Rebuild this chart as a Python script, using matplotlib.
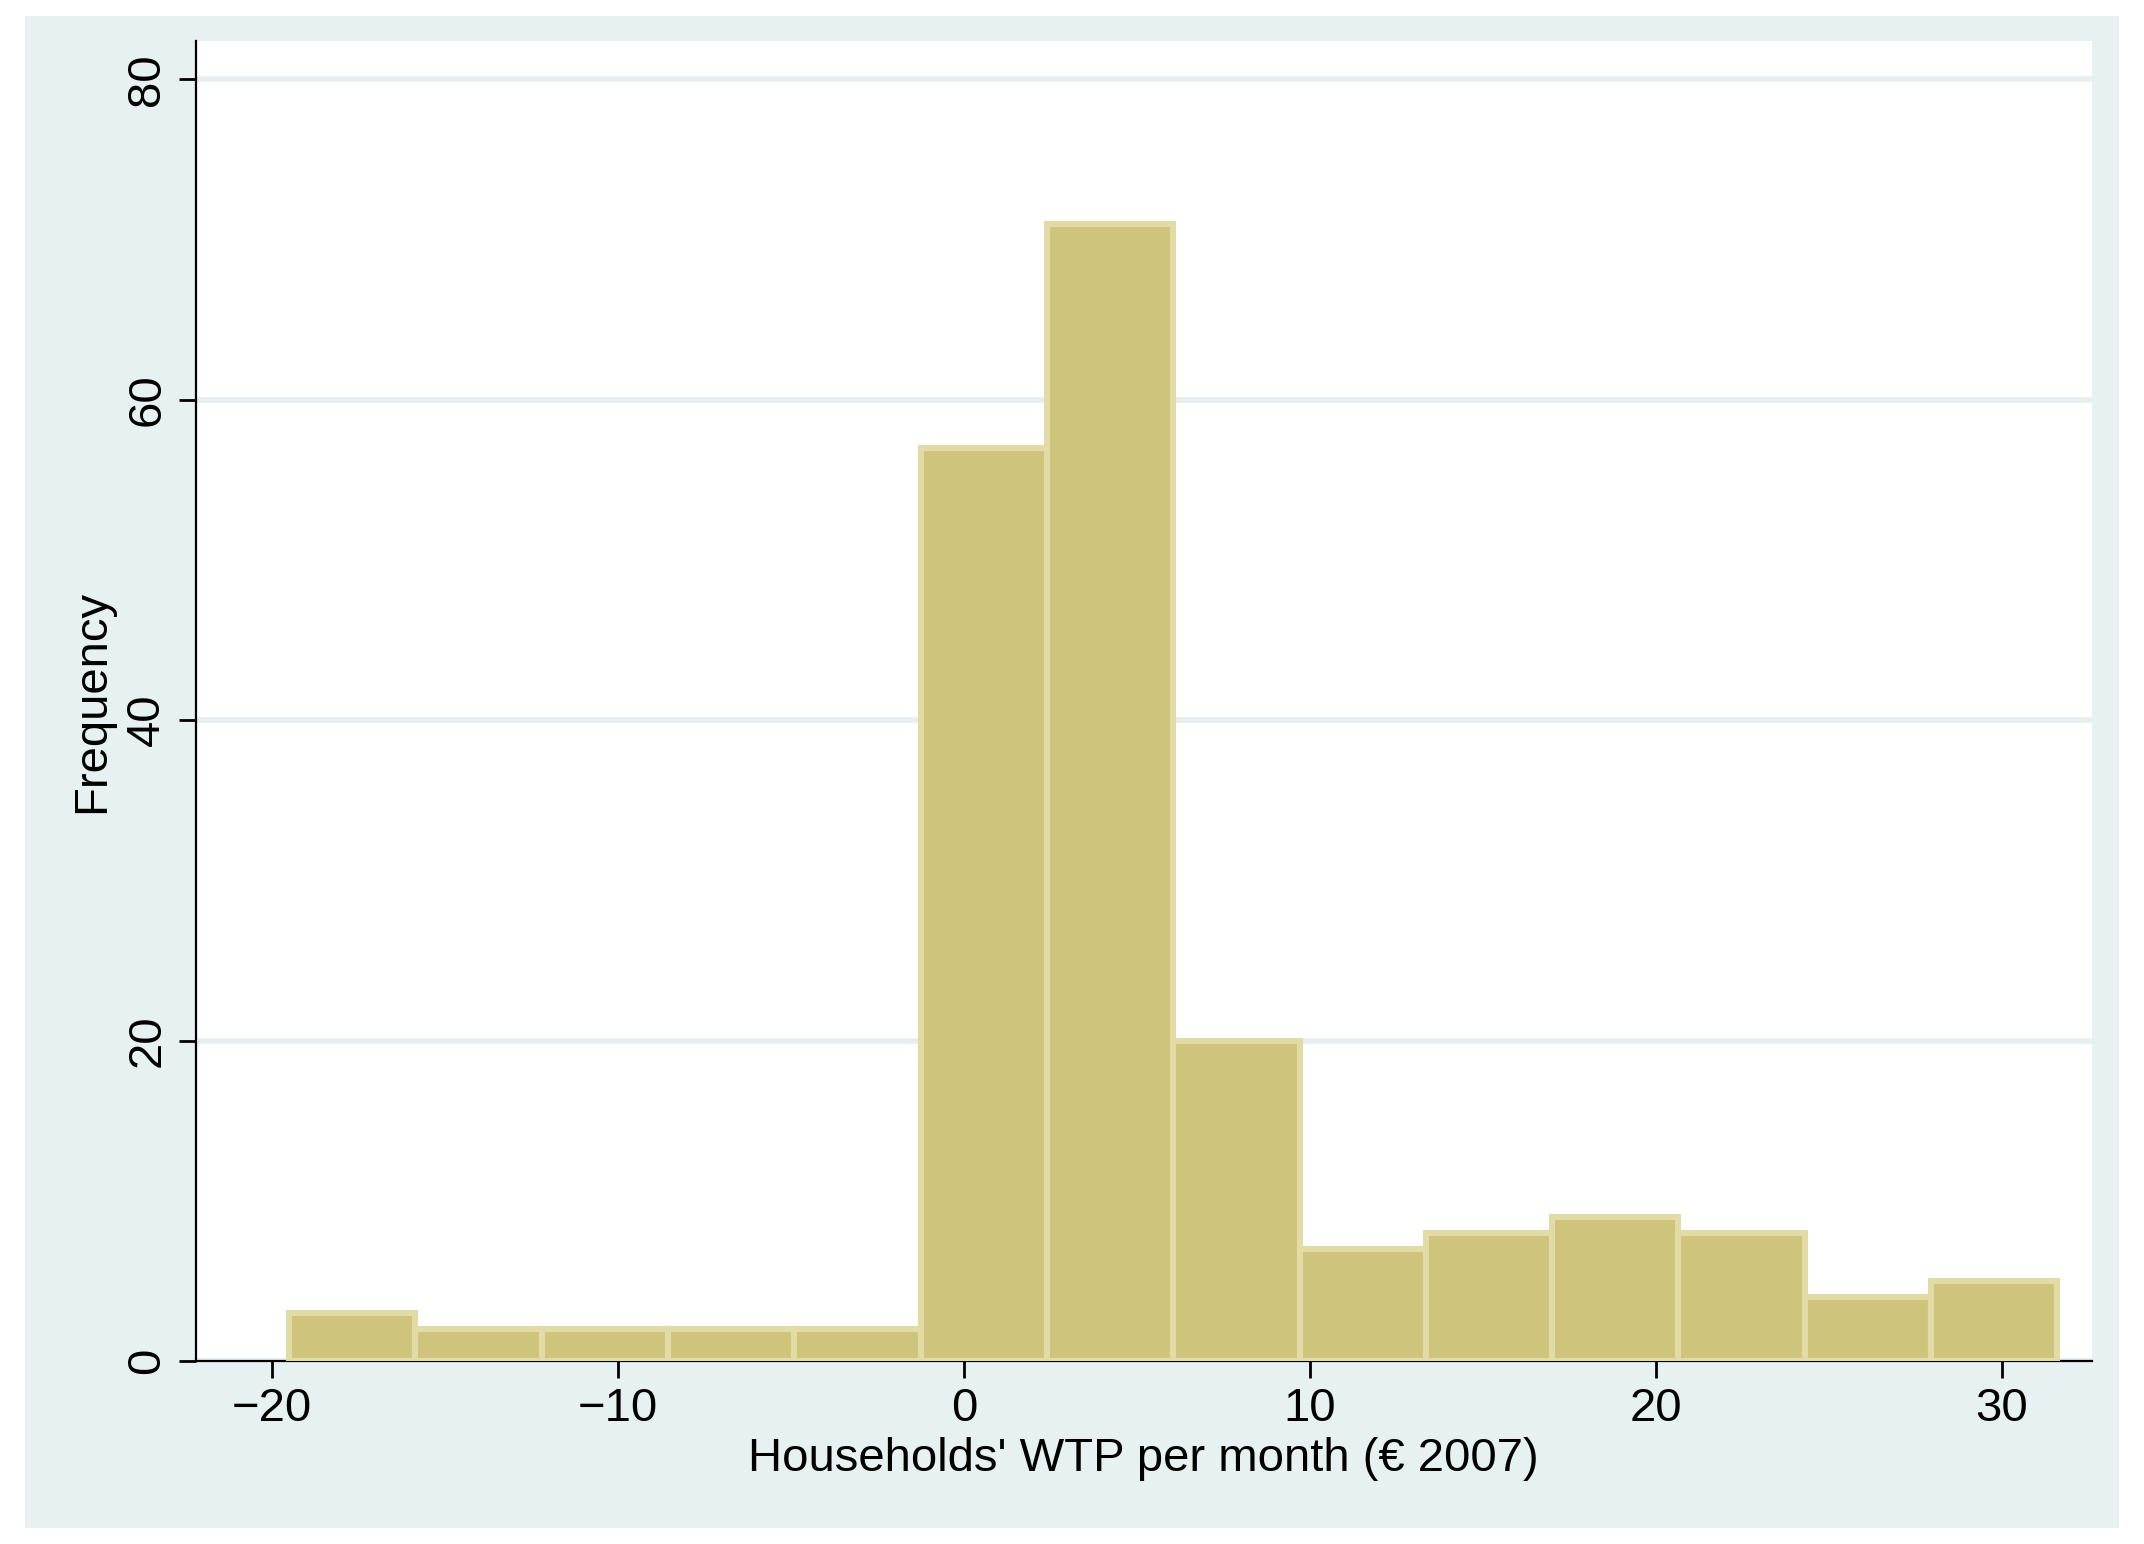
import numpy as np
import matplotlib.pyplot as plt
from matplotlib.patches import Rectangle

plt.rcParams["font.family"] = ["Liberation Sans", "DejaVu Sans"]
plt.rcParams["font.size"] = 17

# Histogram bins (left edges) and counts
bin_start = -19.5
bin_width = 3.65
counts = [3, 2, 2, 2, 2, 57, 71, 20, 7, 8, 9, 8, 4, 5]
edges = bin_start + bin_width * np.arange(len(counts))

fig = plt.figure(figsize=(10.72, 7.72), dpi=200)
fig.patches.append(Rectangle((18/1568, 1 - 1118/1130), (1550-18)/1568, (1118-12)/1130,
                             transform=fig.transFigure, facecolor="#e7f1f1",
                             edgecolor="none", zorder=-10))
ax = fig.add_axes([143/1568, 1 - 996/1130, (1530-143)/1568, (996-30)/1130])
ax.set_facecolor("white")

ax.bar(edges, counts, width=bin_width, align="edge", color="#cfc47c",
       edgecolor="#e3dba6", linewidth=2.2, zorder=3)

ax.set_xlim(-22.2, 32.6)
ax.set_ylim(0, 82.4)
ax.set_xticks([-20, -10, 0, 10, 20, 30])
ax.set_yticks([0, 20, 40, 60, 80])
ax.set_yticklabels(["0", "20", "40", "60", "80"], rotation=90, va="center")
ax.grid(axis="y", color="#e6eff0", linewidth=2, zorder=0)
for s in ["top", "right"]:
    ax.spines[s].set_visible(False)
ax.tick_params(length=6, width=1)

ax.set_xlabel("Households' WTP per month (€ 2007)", labelpad=2)
ax.set_ylabel("Frequency")

fig.savefig("out.png", dpi=200, facecolor="white")
